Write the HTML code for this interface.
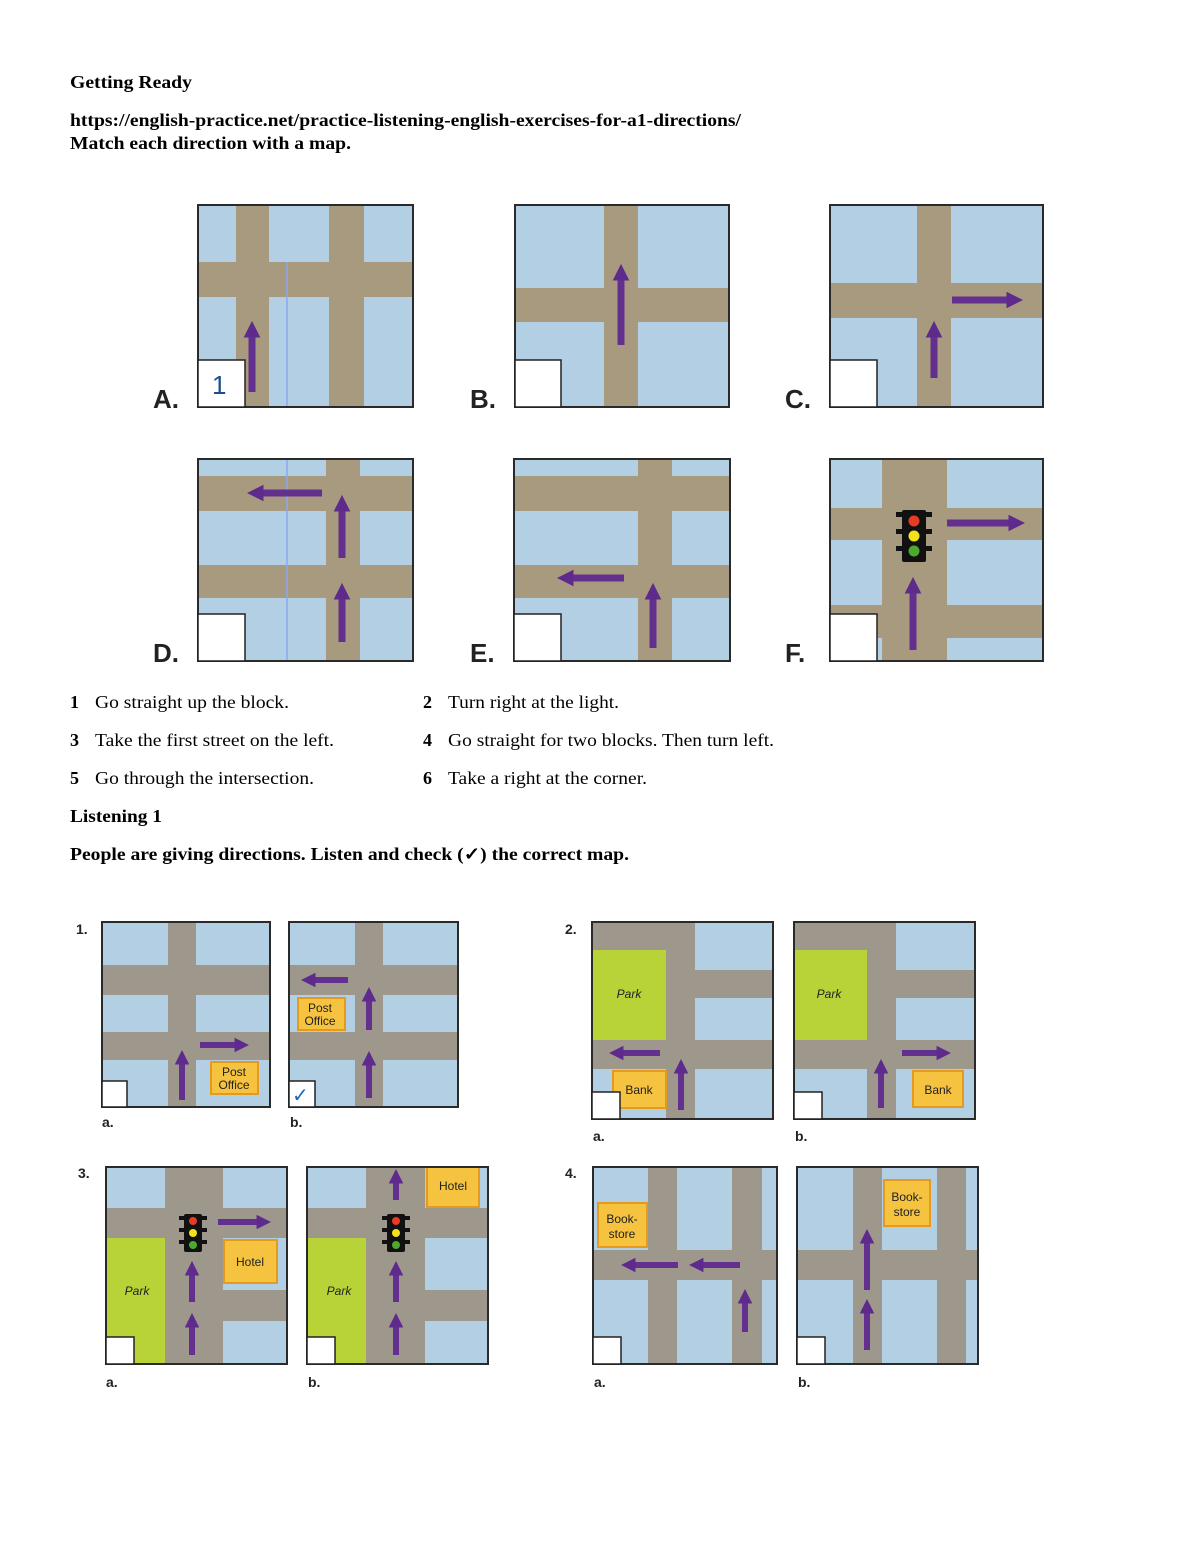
<!DOCTYPE html>
<html><head><meta charset="utf-8"><style>
html,body{margin:0;padding:0;background:#fff;}
svg{display:block;}
text{font-family:"Liberation Serif",serif;}
.b{font-weight:bold;}
.s{font-family:"Liberation Sans",sans-serif;}
</style></head><body>
<svg width="1200" height="1553" viewBox="0 0 1200 1553" xmlns="http://www.w3.org/2000/svg">
<defs>
<marker id="ah" viewBox="0 0 10 10" refX="1" refY="5" markerWidth="2.4" markerHeight="2.4" orient="auto"><path d="M0,0L10,5L0,10z" fill="#5e2a8c"/></marker>
</defs>
<style>
.bl{fill:#b3cfe4}.rd{fill:#a89a7e}.rg{fill:#9d978c}.fr{fill:none;stroke:#2a2a2a;stroke-width:2}
.ar{stroke:#63308f;stroke-width:7;fill:none;marker-end:url(#ah)}
.ar2{stroke:#63308f;stroke-width:6;fill:none;marker-end:url(#ah)}
.wb{fill:#fff;stroke:#222;stroke-width:1.5}
.gr{fill:#b7d337}.yl{fill:#f6c340;stroke:#e39a1f;stroke-width:2}
.lab{font-family:"Liberation Sans",sans-serif;font-weight:bold;font-size:26px;fill:#222}
.lab2{font-family:"Liberation Sans",sans-serif;font-weight:bold;font-size:14px;fill:#222}
.mt{font-family:"Liberation Sans",sans-serif;font-size:12px;fill:#222}
</style>

<!-- header text -->
<text x="70" y="88" class="b" font-size="18" textLength="122" lengthAdjust="spacingAndGlyphs">Getting Ready</text>
<text x="70" y="126" class="b" font-size="18" textLength="671" lengthAdjust="spacingAndGlyphs">https://english-practice.net/practice-listening-english-exercises-for-a1-directions/</text>
<text x="70" y="149" class="b" font-size="18" textLength="281" lengthAdjust="spacingAndGlyphs">Match each direction with a map.</text>

<!-- A -->
<rect x="198" y="205" width="215" height="202" class="bl"/>
<rect x="236" y="205" width="33" height="202" class="rd"/><rect x="329" y="205" width="35" height="202" class="rd"/>
<rect x="198" y="262" width="215" height="35" class="rd"/>
<line x1="287" y1="262" x2="287" y2="407" stroke="#8aa8f0" stroke-width="1.5"/>
<rect x="198" y="205" width="215" height="202" class="fr"/>
<rect x="198" y="360" width="47" height="47" class="wb"/>
<text x="212" y="394" class="s" font-size="26" fill="#1d4f8e">1</text>
<line x1="252" y1="392" x2="252" y2="336" class="ar"/>
<text x="153" y="408" class="lab">A.</text>

<!-- B -->
<rect x="515" y="205" width="214" height="202" class="bl"/>
<rect x="604" y="205" width="34" height="202" class="rd"/>
<rect x="515" y="288" width="214" height="34" class="rd"/>
<rect x="515" y="205" width="214" height="202" class="fr"/>
<rect x="515" y="360" width="46" height="47" class="wb"/>
<line x1="621" y1="345" x2="621" y2="279" class="ar"/>
<text x="470" y="408" class="lab">B.</text>

<!-- C -->
<rect x="830" y="205" width="213" height="202" class="bl"/>
<rect x="917" y="205" width="34" height="202" class="rd"/>
<rect x="830" y="283" width="213" height="35" class="rd"/>
<rect x="830" y="205" width="213" height="202" class="fr"/>
<rect x="830" y="360" width="47" height="47" class="wb"/>
<line x1="934" y1="378" x2="934" y2="336" class="ar"/>
<line x1="952" y1="300" x2="1008" y2="300" class="ar"/>
<text x="785" y="408" class="lab">C.</text>

<!-- D -->
<rect x="198" y="459" width="215" height="202" class="bl"/>
<rect x="326" y="459" width="34" height="202" class="rd"/>
<rect x="198" y="476" width="215" height="35" class="rd"/>
<rect x="198" y="565" width="215" height="33" class="rd"/>
<line x1="287" y1="459" x2="287" y2="661" stroke="#8aa8f0" stroke-width="1.5"/>
<rect x="198" y="459" width="215" height="202" class="fr"/>
<rect x="198" y="614" width="47" height="47" class="wb"/>
<line x1="342" y1="642" x2="342" y2="598" class="ar"/>
<line x1="342" y1="558" x2="342" y2="510" class="ar"/>
<line x1="322" y1="493" x2="262" y2="493" class="ar"/>
<text x="153" y="662" class="lab">D.</text>

<!-- E -->
<rect x="514" y="459" width="216" height="202" class="bl"/>
<rect x="638" y="459" width="34" height="202" class="rd"/>
<rect x="514" y="476" width="216" height="35" class="rd"/>
<rect x="514" y="565" width="216" height="33" class="rd"/>
<rect x="514" y="459" width="216" height="202" class="fr"/>
<rect x="514" y="614" width="47" height="47" class="wb"/>
<line x1="653" y1="648" x2="653" y2="598" class="ar"/>
<line x1="624" y1="578" x2="572" y2="578" class="ar"/>
<text x="470" y="662" class="lab">E.</text>

<!-- F -->
<rect x="830" y="459" width="213" height="202" class="bl"/>
<rect x="882" y="459" width="65" height="202" class="rd"/>
<rect x="830" y="508" width="213" height="32" class="rd"/>
<rect x="830" y="605" width="213" height="33" class="rd"/>
<rect x="830" y="459" width="213" height="202" class="fr"/>
<rect x="830" y="614" width="47" height="47" class="wb"/>
<rect x="902" y="510" width="24" height="52" rx="2" fill="#111"/>
<rect x="896" y="512" width="36" height="5" fill="#111"/><rect x="896" y="529" width="36" height="5" fill="#111"/><rect x="896" y="546" width="36" height="5" fill="#111"/>
<circle cx="914" cy="521" r="5.5" fill="#e83b25"/><circle cx="914" cy="536" r="5.5" fill="#f1e21d"/><circle cx="914" cy="551" r="5.5" fill="#4ea82f"/>
<line x1="947" y1="523" x2="1010" y2="523" class="ar"/>
<line x1="913" y1="650" x2="913" y2="592" class="ar"/>
<text x="785" y="662" class="lab">F.</text>

<!-- directions -->
<g font-size="18">
<text x="70" y="708" class="b">1</text><text x="95" y="708" textLength="194" lengthAdjust="spacingAndGlyphs">Go straight up the block.</text>
<text x="423" y="708" class="b">2</text><text x="448" y="708" textLength="171" lengthAdjust="spacingAndGlyphs">Turn right at the light.</text>
<text x="70" y="746" class="b">3</text><text x="95" y="746" textLength="239" lengthAdjust="spacingAndGlyphs">Take the first street on the left.</text>
<text x="423" y="746" class="b">4</text><text x="448" y="746" textLength="326" lengthAdjust="spacingAndGlyphs">Go straight for two blocks. Then turn left.</text>
<text x="70" y="784" class="b">5</text><text x="95" y="784" textLength="219" lengthAdjust="spacingAndGlyphs">Go through the intersection.</text>
<text x="423" y="784" class="b">6</text><text x="448" y="784" textLength="199" lengthAdjust="spacingAndGlyphs">Take a right at the corner.</text>
<text x="70" y="822" class="b" textLength="92" lengthAdjust="spacingAndGlyphs">Listening 1</text>
<text x="70" y="860" class="b" textLength="559" lengthAdjust="spacingAndGlyphs">People are giving directions. Listen and check (✓) the correct map.</text>
</g>

<!-- 1a -->
<text x="76" y="934" class="lab2">1.</text>
<rect x="102" y="922" width="168" height="185" class="bl"/>
<rect x="168" y="922" width="28" height="185" class="rg"/>
<rect x="102" y="965" width="168" height="30" class="rg"/>
<rect x="102" y="1032" width="168" height="28" class="rg"/>
<rect x="102" y="922" width="168" height="185" class="fr" stroke-width="1.5"/>
<rect x="102" y="1081" width="25" height="26" class="wb"/>
<rect x="211" y="1062" width="47" height="32" class="yl"/>
<text x="234" y="1076" class="mt" text-anchor="middle">Post</text><text x="234" y="1089" class="mt" text-anchor="middle">Office</text>
<line x1="182" y1="1100" x2="182" y2="1063" class="ar2"/>
<line x1="200" y1="1045" x2="236" y2="1045" class="ar2"/>
<text x="102" y="1127" class="lab2">a.</text>

<!-- 1b -->
<rect x="289" y="922" width="169" height="185" class="bl"/>
<rect x="355" y="922" width="28" height="185" class="rg"/>
<rect x="289" y="965" width="169" height="30" class="rg"/>
<rect x="289" y="1032" width="169" height="28" class="rg"/>
<rect x="289" y="922" width="169" height="185" class="fr" stroke-width="1.5"/>
<rect x="289" y="1081" width="26" height="26" class="wb"/>
<text x="292" y="1102" class="s" font-size="20" fill="#1f64b8">✓</text>
<rect x="298" y="998" width="47" height="32" class="yl"/>
<text x="320" y="1012" class="mt" text-anchor="middle">Post</text><text x="320" y="1025" class="mt" text-anchor="middle">Office</text>
<line x1="369" y1="1098" x2="369" y2="1064" class="ar2"/>
<line x1="369" y1="1030" x2="369" y2="1000" class="ar2"/>
<line x1="348" y1="980" x2="314" y2="980" class="ar2"/>
<text x="290" y="1127" class="lab2">b.</text>

<!-- 2a -->
<text x="565" y="934" class="lab2">2.</text>
<rect x="592" y="922" width="181" height="197" class="bl"/>
<rect x="592" y="922" width="103" height="28" class="rg"/>
<rect x="666" y="922" width="29" height="197" class="rg"/>
<rect x="695" y="970" width="78" height="28" class="rg"/>
<rect x="592" y="1040" width="181" height="29" class="rg"/>
<rect x="592" y="950" width="74" height="90" class="gr"/>
<rect x="613" y="1071" width="53" height="37" class="yl"/>
<text x="639" y="1094" class="mt" text-anchor="middle">Bank</text>
<text x="629" y="998" class="mt" text-anchor="middle" font-style="italic">Park</text>
<rect x="592" y="922" width="181" height="197" class="fr" stroke-width="1.5"/>
<rect x="592" y="1092" width="28" height="27" class="wb"/>
<line x1="681" y1="1110" x2="681" y2="1072" class="ar2"/>
<line x1="660" y1="1053" x2="622" y2="1053" class="ar2"/>
<text x="593" y="1141" class="lab2">a.</text>

<!-- 2b -->
<rect x="794" y="922" width="181" height="197" class="bl"/>
<rect x="794" y="922" width="102" height="28" class="rg"/>
<rect x="867" y="922" width="29" height="197" class="rg"/>
<rect x="896" y="970" width="79" height="28" class="rg"/>
<rect x="794" y="1040" width="181" height="29" class="rg"/>
<rect x="794" y="950" width="73" height="90" class="gr"/>
<rect x="913" y="1071" width="50" height="36" class="yl"/>
<text x="938" y="1094" class="mt" text-anchor="middle">Bank</text>
<text x="829" y="998" class="mt" text-anchor="middle" font-style="italic">Park</text>
<rect x="794" y="922" width="181" height="197" class="fr" stroke-width="1.5"/>
<rect x="794" y="1092" width="28" height="27" class="wb"/>
<line x1="881" y1="1108" x2="881" y2="1072" class="ar2"/>
<line x1="902" y1="1053" x2="938" y2="1053" class="ar2"/>
<text x="795" y="1141" class="lab2">b.</text>

<!-- 3a -->
<text x="78" y="1178" class="lab2">3.</text>
<rect x="106" y="1167" width="181" height="197" class="bl"/>
<rect x="165" y="1167" width="58" height="197" class="rg"/>
<rect x="106" y="1208" width="181" height="30" class="rg"/>
<rect x="223" y="1290" width="64" height="31" class="rg"/>
<rect x="106" y="1238" width="59" height="126" class="gr"/>
<rect x="224" y="1240" width="53" height="43" class="yl"/>
<text x="250" y="1266" class="mt" text-anchor="middle">Hotel</text>
<text x="137" y="1295" class="mt" text-anchor="middle" font-style="italic">Park</text>
<rect x="106" y="1167" width="181" height="197" class="fr" stroke-width="1.5"/>
<rect x="106" y="1337" width="28" height="27" class="wb"/>
<rect x="184" y="1214" width="18" height="38" rx="2" fill="#111"/>
<rect x="179" y="1216" width="28" height="4" fill="#111"/><rect x="179" y="1228" width="28" height="4" fill="#111"/><rect x="179" y="1240" width="28" height="4" fill="#111"/>
<circle cx="193" cy="1221" r="4" fill="#e83b25"/><circle cx="193" cy="1233" r="4" fill="#f1e21d"/><circle cx="193" cy="1245" r="4" fill="#4ea82f"/>
<line x1="218" y1="1222" x2="258" y2="1222" class="ar2"/>
<line x1="192" y1="1302" x2="192" y2="1274" class="ar2"/>
<line x1="192" y1="1355" x2="192" y2="1326" class="ar2"/>
<text x="106" y="1387" class="lab2">a.</text>

<!-- 3b -->
<rect x="307" y="1167" width="181" height="197" class="bl"/>
<rect x="366" y="1167" width="59" height="197" class="rg"/>
<rect x="307" y="1208" width="181" height="30" class="rg"/>
<rect x="425" y="1290" width="63" height="31" class="rg"/>
<rect x="307" y="1238" width="59" height="126" class="gr"/>
<rect x="427" y="1167" width="52" height="40" class="yl"/>
<text x="453" y="1190" class="mt" text-anchor="middle">Hotel</text>
<text x="339" y="1295" class="mt" text-anchor="middle" font-style="italic">Park</text>
<rect x="307" y="1167" width="181" height="197" class="fr" stroke-width="1.5"/>
<rect x="307" y="1337" width="28" height="27" class="wb"/>
<rect x="387" y="1214" width="18" height="38" rx="2" fill="#111"/>
<rect x="382" y="1216" width="28" height="4" fill="#111"/><rect x="382" y="1228" width="28" height="4" fill="#111"/><rect x="382" y="1240" width="28" height="4" fill="#111"/>
<circle cx="396" cy="1221" r="4" fill="#e83b25"/><circle cx="396" cy="1233" r="4" fill="#f1e21d"/><circle cx="396" cy="1245" r="4" fill="#4ea82f"/>
<line x1="396" y1="1200" x2="396" y2="1182" class="ar2"/>
<line x1="396" y1="1302" x2="396" y2="1274" class="ar2"/>
<line x1="396" y1="1355" x2="396" y2="1326" class="ar2"/>
<text x="308" y="1387" class="lab2">b.</text>

<!-- 4a -->
<text x="565" y="1178" class="lab2">4.</text>
<rect x="593" y="1167" width="184" height="197" class="bl"/>
<rect x="648" y="1167" width="29" height="197" class="rg"/>
<rect x="732" y="1167" width="30" height="197" class="rg"/>
<rect x="593" y="1250" width="184" height="30" class="rg"/>
<rect x="598" y="1203" width="49" height="44" class="yl"/>
<text x="622" y="1223" class="mt" text-anchor="middle">Book-</text><text x="622" y="1238" class="mt" text-anchor="middle">store</text>
<rect x="593" y="1167" width="184" height="197" class="fr" stroke-width="1.5"/>
<rect x="593" y="1337" width="28" height="27" class="wb"/>
<line x1="740" y1="1265" x2="702" y2="1265" class="ar2"/>
<line x1="678" y1="1265" x2="634" y2="1265" class="ar2"/>
<line x1="745" y1="1332" x2="745" y2="1302" class="ar2"/>
<text x="594" y="1387" class="lab2">a.</text>

<!-- 4b -->
<rect x="797" y="1167" width="181" height="197" class="bl"/>
<rect x="853" y="1167" width="29" height="197" class="rg"/>
<rect x="937" y="1167" width="29" height="197" class="rg"/>
<rect x="797" y="1250" width="181" height="30" class="rg"/>
<rect x="884" y="1180" width="46" height="46" class="yl"/>
<text x="907" y="1201" class="mt" text-anchor="middle">Book-</text><text x="907" y="1216" class="mt" text-anchor="middle">store</text>
<rect x="797" y="1167" width="181" height="197" class="fr" stroke-width="1.5"/>
<rect x="797" y="1337" width="28" height="27" class="wb"/>
<line x1="867" y1="1350" x2="867" y2="1312" class="ar2"/>
<line x1="867" y1="1290" x2="867" y2="1242" class="ar2"/>
<text x="798" y="1387" class="lab2">b.</text>
</svg>
</body></html>
